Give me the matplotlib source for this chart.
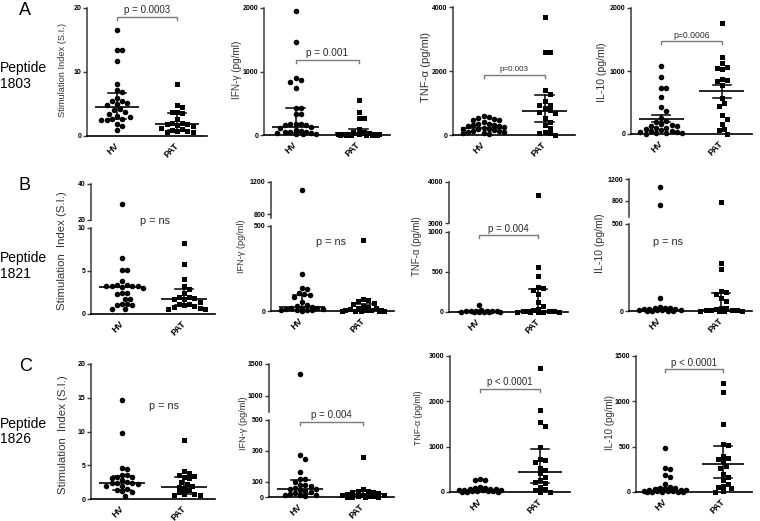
import numpy as np
import matplotlib
matplotlib.use("Agg")
import matplotlib.pyplot as plt

plt.rcParams['font.family'] = ['Liberation Sans', 'DejaVu Sans']

W, H = 760, 521
fig = plt.figure(figsize=(W / 100, H / 100), dpi=100)

groups = ['HV', 'PAT']

# ---------------- Row A : Peptide 1803 ----------------
a1_hv = [16.6, 13.4, 13.4, 11.7, 8.2, 7.2, 6.9, 5.9, 5.5, 5.4, 5.2, 5.0, 4.8, 4.2,
         4.0, 3.7, 3.5, 3.2, 3.0, 2.6, 2.6, 2.5, 2.5, 1.9, 1.6, 0.9]
a1_pat = [8.2, 4.9, 4.5, 3.8, 3.7, 3.6, 2.6, 2.1, 2.0, 1.9, 1.8, 1.7, 1.6, 1.3,
          1.1, 1.0, 0.8, 0.8, 0.7, 0.7]
a1_stats = [(4.5, 2.6, 6.7), (1.9, 1.0, 3.6)]

a2_hv = [1950, 1470, 900, 870, 830, 740, 430, 420, 330, 330, 180, 170, 170, 160,
         150, 130, 110, 80, 60, 50, 50, 40, 30, 30, 20, 20, 10]
a2_pat = [545, 360, 270, 260, 95, 50, 40, 30, 20, 20, 15, 10, 10, 10, 5, 5, 5, 5, 0, 0]
a2_stats = [(120, 30, 425), (30, 5, 90)]

a3_hv = [590, 560, 520, 500, 480, 470, 400, 350, 330, 310, 300, 280, 270, 250,
         220, 200, 190, 180, 150, 120, 110, 100, 90, 60, 50, 30]
a3_pat = [3700, 2600, 2600, 1400, 1280, 1060, 950, 940, 830, 780, 730, 680, 520,
          420, 310, 230, 80, 60, 50, 10]
a3_stats = [(230, 230, 230), (740, 400, 1240)]

a4_hv = [1075, 905, 730, 730, 590, 430, 370, 250, 200, 190, 160, 150, 130, 120,
         100, 90, 80, 60, 50, 40, 30, 30, 20, 10, 10, 0]
a4_pat = [1760, 1230, 1120, 1060, 1050, 1030, 880, 860, 840, 780, 570, 490, 450,
          300, 240, 160, 80, 70, 0]
a4_stats = [(238, 185, 296), (683, 571, 783)]

# ---------------- Row B : Peptide 1821 ----------------
b1_hv = [28.7, 6.5, 5.1, 5.1, 3.8, 3.4, 3.4, 3.3, 3.3, 3.2, 3.2, 3.1, 3.0, 2.4,
         2.4, 2.3, 1.8, 1.8, 1.2, 1.2, 1.0, 1.0, 0.6, 0.6]
b1_pat = [8.2, 5.8, 4.1, 3.3, 2.9, 2.4, 2.0, 2.0, 1.9, 1.8, 1.7, 1.4, 1.2, 1.2,
          1.0, 0.9, 0.8, 0.7, 0.6, 0.6]
b1_stats = [(3.1, 3.1, 3.1), (1.8, 1.0, 2.9)]

b2_hv = [1100, 215, 135, 130, 105, 100, 95, 85, 55, 35, 30, 25, 20, 20, 15, 10,
         10, 8, 5, 5, 3, 2]
b2_pat = [420, 70, 65, 60, 45, 40, 30, 25, 20, 15, 10, 8, 5, 5, 3, 2, 2, 1, 0, 0]
b2_stats = [(22, 5, 94), (8, 2, 40)]

b3_hv = [85, 20, 15, 12, 10, 10, 8, 8, 5, 5, 3, 2, 0, 0]
b3_pat = [3690, 560, 450, 310, 300, 280, 220, 120, 70, 40, 20, 15, 12, 10, 8, 5,
          5, 3, 2, 0]
b3_stats = [(5, 5, 5), (10, 5, 285)]

b4_hv = [1045, 725, 77, 25, 20, 18, 15, 12, 10, 10, 8, 5, 5, 3, 2, 2, 0, 0]
b4_pat = [780, 275, 240, 115, 110, 100, 75, 60, 20, 15, 10, 8, 5, 5, 3, 2, 1, 0, 0]
b4_stats = [(5, 5, 5), (5, 2, 101)]

# ---------------- Row C : Peptide 1826 ----------------
c1_hv = [14.7, 9.8, 4.6, 4.5, 3.6, 3.5, 3.3, 3.2, 3.1, 2.8, 2.5, 2.4, 2.4, 2.3,
         2.2, 2.0, 1.9, 1.5, 1.4, 1.2, 1.0, 0.5]
c1_pat = [8.7, 4.1, 3.9, 3.6, 3.4, 3.2, 3.1, 2.5, 2.2, 2.0, 1.8, 1.5, 1.3, 1.0,
          0.8, 0.7, 0.6, 0.6]
c1_stats = [(2.36, 1.4, 3.45), (1.72, 0.8, 3.25)]

c2_hv = [1340, 275, 250, 160, 120, 115, 95, 80, 75, 70, 60, 55, 50, 45, 40, 30,
         25, 20, 15, 10, 10, 5]
c2_pat = [260, 50, 40, 38, 35, 30, 25, 20, 15, 12, 10, 8, 5, 5, 3, 2, 0, 0]
c2_stats = [(54, 20, 109), (20, 5, 40)]

c3_hv = [280, 270, 260, 100, 90, 80, 70, 60, 60, 50, 50, 40, 40, 30, 30, 20, 20,
         10, 10, 5]
c3_pat = [2740, 1800, 1550, 1460, 1000, 730, 710, 660, 540, 490, 420, 340, 260,
          230, 200, 120, 70, 50, 10, 0]
c3_stats = [(37, 37, 37), (440, 200, 950)]

c4_hv = [490, 270, 250, 185, 165, 90, 50, 45, 40, 35, 30, 25, 20, 20, 15, 10, 10,
         8, 5, 5, 3, 2, 0]
c4_pat = [1200, 1100, 745, 525, 515, 400, 380, 360, 340, 290, 270, 200, 170, 130,
          90, 70, 50, 40, 10, 0]
c4_stats = [(10, 5, 45), (306, 150, 505)]

row_letters = ['A', 'B', 'C']
row_peptides = ['1803', '1821', '1826']

# ---------------- layout (pixel boxes) ----------------
panels = [
    dict(hv=a1_hv, pat=a1_pat, stats=a1_stats, x=(87, 207),
         segs=[dict(lim=(0, 20), px=(8, 136), ticks=[0, 10, 20])],
         ylabel='Stimulation Index (S.I.)', ylab=(63, 70, 6.7),
         sig=dict(text='p = 0.0003', y=18.6, fs=7)),
    dict(hv=a2_hv, pat=a2_pat, stats=a2_stats, x=(264, 390),
         segs=[dict(lim=(0, 2000), px=(8, 135), ticks=[0, 1000, 2000])],
         ylabel='IFN-γ (pg/ml)', ylab=(237, 70, 7.2),
         sig=dict(text='p = 0.001', y=1180, fs=7.2)),
    dict(hv=a3_hv, pat=a3_pat, stats=a3_stats, x=(453, 575),
         segs=[dict(lim=(0, 4000), px=(7, 135), ticks=[0, 2000, 4000])],
         ylabel='TNF-α (pg/ml)', ylab=(426, 67, 8.1),
         sig=dict(text='p=0.003', y=1880, fs=5.8)),
    dict(hv=a4_hv, pat=a4_pat, stats=a4_stats, x=(631, 752),
         segs=[dict(lim=(0, 2000), px=(8, 134), ticks=[0, 1000, 2000])],
         ylabel='IL-10 (pg/ml)', ylab=(602, 72, 7.6),
         sig=dict(text='p=0.0006', y=1470, fs=6.2)),
    dict(hv=b1_hv, pat=b1_pat, stats=b1_stats, x=(91, 215),
         segs=[dict(lim=(0, 10), px=(228, 314), ticks=[0, 5, 10]),
               dict(lim=(20, 40), px=(184, 220), ticks=[20, 40])],
         ylabel='Stimulation  Index (S.I.)', ylab=(62, 251, 8.2),
         ns=(155, 221, 7.8)),
    dict(hv=b2_hv, pat=b2_pat, stats=b2_stats, x=(271, 394),
         segs=[dict(lim=(0, 500), px=(226, 311), ticks=[0, 500]),
               dict(lim=(750, 1200), px=(182, 218), ticks=[800, 1200])],
         ylabel='IFN-γ (pg/ml)', ylab=(242, 246, 6.6),
         ns=(331, 242, 7.8)),
    dict(hv=b3_hv, pat=b3_pat, stats=b3_stats, x=(449, 568),
         segs=[dict(lim=(0, 1000), px=(232, 312), ticks=[0, 500, 1000]),
               dict(lim=(3000, 4000), px=(182, 223), ticks=[3000, 4000])],
         ylabel='TNF-α (pg/ml)', ylab=(417, 246, 6.9),
         sig=dict(text='p = 0.004', y=958, fs=7)),
    dict(hv=b4_hv, pat=b4_pat, stats=b4_stats, x=(629, 752),
         segs=[dict(lim=(0, 500), px=(224, 311), ticks=[0, 500]),
               dict(lim=(500, 1200), px=(179, 217), ticks=[800, 1200])],
         ylabel='IL-10 (pg/ml)', ylab=(600, 243, 7.6),
         ns=(668, 242, 7.8)),
    dict(hv=c1_hv, pat=c1_pat, stats=c1_stats, x=(91, 215),
         segs=[dict(lim=(0, 20), px=(364, 499), ticks=[0, 5, 10, 15, 20])],
         ylabel='Stimulation  Index (S.I.)', ylab=(63, 435, 8.2),
         ns=(164, 406, 7.8)),
    dict(hv=c2_hv, pat=c2_pat, stats=c2_stats, x=(269, 394),
         segs=[dict(lim=(0, 500), px=(420, 497), ticks=[0, 100, 300, 500]),
               dict(lim=(750, 1500), px=(364, 412), ticks=[1000, 1500])],
         ylabel='IFN-γ (pg/ml)', ylab=(243, 423, 6.6),
         sig=dict(text='p = 0.004', y=490, fs=7)),
    dict(hv=c3_hv, pat=c3_pat, stats=c3_stats, x=(450, 570),
         segs=[dict(lim=(0, 3000), px=(356, 492), ticks=[0, 1000, 2000, 3000])],
         ylabel='TNF-α (pg/ml)', ylab=(418, 418, 6.3),
         sig=dict(text='p < 0.0001', y=2280, fs=6.9)),
    dict(hv=c4_hv, pat=c4_pat, stats=c4_stats, x=(636, 752),
         segs=[dict(lim=(0, 1500), px=(356, 492), ticks=[0, 500, 1000, 1500])],
         ylabel='IL-10 (pg/ml)', ylab=(610, 422, 7.0),
         sig=dict(text='p < 0.0001', y=1353, fs=7)),
]

LEFT_C = '#3a3a3a'
SIG_C = '#7a7a7a'
DOT_D = 5.2      # px, collision diameter
MAX_SPREAD = 21  # px


def swarm_offsets(ypx, segidx, d=DOT_D, maxpx=MAX_SPREAD):
    step = d * 0.5
    cands = [0.0]
    k = 1
    while k * step <= maxpx:
        cands += [k * step, -k * step]
        k += 1
    order = np.argsort(ypx)[::-1]
    placed = []
    res = np.zeros(len(ypx))
    for i in order:
        y, sg = ypx[i], segidx[i]
        chosen, best_c, best_d = None, 0.0, -1
        for c in cands:
            ds = [np.hypot(c - px, y - py) for (px, py, ps) in placed if ps == sg]
            md = min(ds) if ds else 1e9
            if md >= d:
                chosen = c
                break
            if md > best_d:
                best_d, best_c = md, c
        if chosen is None:
            chosen = best_c
        placed.append((chosen, y, sg))
        res[i] = chosen
    return res


def draw_panel(p):
    x0, x1 = p['x']
    ppu = (x1 - x0) / 2.0
    axes = []
    for i, s in enumerate(p['segs']):
        top, bot = s['px']
        ax = fig.add_axes([x0 / W, 1 - bot / H, (x1 - x0) / W, (bot - top) / H])
        ax.set_xlim(-0.5, 1.5)
        ax.set_ylim(*s['lim'])
        ax.patch.set_alpha(0)
        for sp in ['top', 'right']:
            ax.spines[sp].set_visible(False)
        ax.spines['left'].set_color(LEFT_C)
        ax.spines['left'].set_linewidth(1.1)
        ax.set_yticks(s['ticks'])
        ax.set_yticklabels([str(t) for t in s['ticks']], fontsize=5, fontweight='bold')
        ax.tick_params(axis='y', length=3, width=1, pad=1, color=LEFT_C)
        if i == 0:
            ax.spines['bottom'].set_color('black')
            ax.spines['bottom'].set_linewidth(1.2)
            ax.set_xticks([0, 1])
            ax.set_xticklabels(groups, rotation=45, ha='right', va='center',
                               rotation_mode='anchor', fontsize=6.5, fontweight='bold')
            ax.tick_params(axis='x', length=0, pad=6)
        else:
            ax.spines['bottom'].set_visible(False)
            ax.set_xticks([])
        axes.append(ax)

    segs = p['segs']

    def seg_for(v):
        for j, s in enumerate(segs):
            if v <= s['lim'][1]:
                return j
        return len(segs) - 1

    def ypix(v, j):
        lo, hi = segs[j]['lim']
        top, bot = segs[j]['px']
        return top + (hi - v) / (hi - lo) * (bot - top)

    for g, (vals, mk, ms) in enumerate([(p['hv'], 'o', 4.0), (p['pat'], 's', 3.6)]):
        vals = np.asarray(vals, float)
        sidx = np.array([seg_for(v) for v in vals])
        ypx = np.array([ypix(v, j) for v, j in zip(vals, sidx)])
        offs = swarm_offsets(-ypx, sidx)
        for j, ax in enumerate(axes):
            m = sidx == j
            if m.any():
                ax.plot(g + offs[m] / ppu, vals[m], ls='none', marker=mk, ms=ms,
                        color='black', mew=0, clip_on=False, zorder=3)
        c, lo, hi = p['stats'][g]
        ax0 = axes[0]
        ax0.plot([g - 0.37, g + 0.37], [c, c], color='black', lw=1.2,
                 clip_on=False, zorder=4, solid_capstyle='butt')
        if hi > lo:
            ax0.plot([g, g], [lo, hi], color='black', lw=1.1, clip_on=False, zorder=4)
            for e in (lo, hi):
                ax0.plot([g - 0.15, g + 0.15], [e, e], color='black', lw=1.1,
                         clip_on=False, zorder=4)

    if 'sig' in p:
        sg = p['sig']
        j = seg_for(sg['y'])
        ax = axes[j]
        lo, hi = segs[j]['lim']
        top, bot = segs[j]['px']
        dy = (hi - lo) / (bot - top) * 3.0
        y = sg['y']
        ax.plot([0, 0, 1, 1], [y - dy, y, y, y - dy], color=SIG_C, lw=1.0,
                clip_on=False, zorder=5)
        ax.annotate(sg['text'], xy=(0.5, y), xytext=(0, 1.2),
                    textcoords='offset points', ha='center', va='bottom',
                    fontsize=sg['fs'], color='#2a2a2a', annotation_clip=False)
    if 'ns' in p:
        nx, ny, nfs = p['ns']
        fig.text(nx / W, 1 - ny / H, 'p = ns', ha='center', va='center',
                 fontsize=nfs, color='#2a2a2a')

    lx, ly, lfs = p['ylab']
    fig.text(lx / W, 1 - ly / H, p['ylabel'], rotation=90, ha='center',
             va='center', fontsize=lfs, color='#333333')


for p in panels:
    draw_panel(p)

# row labels
letter_base = [15, 190, 371]
pep_base = [(72, 88), (262, 278), (428, 443)]
for r in range(3):
    fig.text(19 / W, 1 - letter_base[r] / H, row_letters[r], fontsize=13,
             ha='left', va='baseline')
    fig.text(0 / W, 1 - pep_base[r][0] / H, 'Peptide', fontsize=10,
             ha='left', va='baseline')
    fig.text(0 / W, 1 - pep_base[r][1] / H, row_peptides[r], fontsize=10,
             ha='left', va='baseline')

fig.savefig('out.png', dpi=100)
